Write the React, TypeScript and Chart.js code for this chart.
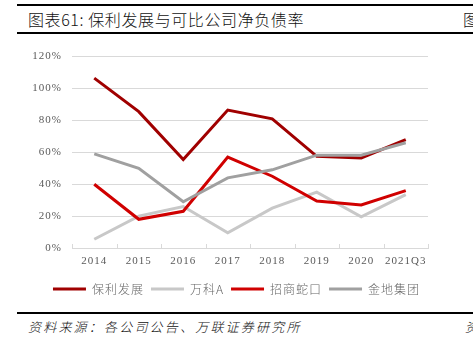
import React, { useEffect, useRef } from "react";
import { Chart, registerables } from "chart.js";

Chart.register(...registerables);

const categories = ["2014", "2015", "2016", "2017", "2018", "2019", "2020", "2021Q3"];
const seriesNames = ["保利发展", "万科A", "招商蛇口", "金地集团"];
const polyValues = [106.5, 85.5, 55.5, 86.5, 81, 57.5, 56.5, 68];
const vankeValues = [5.5, 20, 26, 9.5, 25, 35, 19.5, 33.5];
const cmskValues = [40, 18, 23, 57, 45, 29.5, 27, 36];
const gemdaleValues = [59, 50, 29, 44, 49, 58.2, 58.2, 66];
const seriesColors = ["#A00000", "#C8C8C8", "#D00000", "#A0A0A0"];
const yMin = 0;
const yMax = 120;
const yStep = 20;

const spacingPlugin = {
  id: "spacing",
  beforeLayout(chart: any) {
    chart.ctx.letterSpacing = "1px";
  },
  beforeDraw(chart: any) {
    chart.ctx.letterSpacing = "1px";
  },
};

const xTickPlugin = {
  id: "xTicksUp",
  afterDatasetsDraw(chart: any) {
    const xs = chart.scales.x;
    const ctx = chart.ctx;
    const n = categories.length;
    const half = (xs.getPixelForValue(1) - xs.getPixelForValue(0)) / 2;
    ctx.save();
    ctx.strokeStyle = "#D9D9D9";
    ctx.lineWidth = 1;
    ctx.beginPath();
    for (let i = 0; i <= n; i++) {
      const x = Math.round(xs.getPixelForValue(i) - half) + 0.5;
      ctx.moveTo(x, xs.top - 4);
      ctx.lineTo(x, xs.top);
    }
    ctx.stroke();
    ctx.restore();
  },
};

export default function App() {
  const ref = useRef<HTMLCanvasElement | null>(null);

  useEffect(() => {
    if (!ref.current) return;
    const all = [polyValues, vankeValues, cmskValues, gemdaleValues];
    const chart = new Chart(ref.current, {
      type: "line",
      data: {
        labels: categories,
        datasets: all.map((d, i) => ({
          label: seriesNames[i],
          data: d,
          borderColor: seriesColors[i],
          backgroundColor: seriesColors[i],
          borderWidth: 3,
          pointRadius: 0,
          tension: 0,
          order: all.length - i,
          yAxisID: "y",
        })),
      },
      options: {
        animation: false,
        responsive: false,
        layout: { padding: { top: 10, left: 0, right: 0, bottom: 0 } },
        plugins: {
          tooltip: { enabled: false },
          legend: {
            position: "bottom",
            labels: {
              usePointStyle: true,
              pointStyle: "line",
              pointStyleWidth: 33,
              boxHeight: 12,
              padding: 7,
              color: "#666666",
              font: { family: "'Noto Sans CJK SC'", size: 12, weight: "300" },
              sort: (a: any, b: any) => a.datasetIndex - b.datasetIndex,
            },
          },
        },
        scales: {
          x: {
            offset: true,
            grid: { display: false, offset: true, drawTicks: false },
            border: { display: true, color: "#D9D9D9", width: 1 },
            ticks: {
              color: "#595959",
              padding: 7,
              maxRotation: 0,
              autoSkip: false,
              font: { family: "'Liberation Serif', serif", size: 11 },
            },
            afterFit: (s: any) => {
              s.height = 28;
            },
          },
          y: {
            min: yMin,
            max: yMax,
            grid: { color: "#D9D9D9", lineWidth: 1, drawTicks: false },
            border: { display: false },
            ticks: {
              stepSize: yStep,
              padding: 10,
              color: "#595959",
              font: { family: "'Liberation Serif', serif", size: 11 },
              callback: (v: any) => v + "%",
            },
            afterFit: (s: any) => {
              s.width = 72;
            },
          },
          yRight: {
            position: "right",
            display: true,
            grid: { display: false, drawTicks: false },
            border: { display: false },
            ticks: { display: false },
            afterFit: (s: any) => {
              s.width = 45;
            },
          },
        },
      } as any,
      plugins: [spacingPlugin, xTickPlugin],
    });
    return () => chart.destroy();
  }, []);

  return (
    <div
      style={{
        position: "absolute",
        left: 0,
        top: 0,
        width: 473,
        height: 351,
        overflow: "hidden",
        background: "#fff",
      }}
    >
      <div style={{ position: "absolute", left: 17, right: 0, top: 4, height: 2, background: "#000" }} />
      <div
        style={{
          position: "absolute",
          left: 28,
          top: 9,
          height: 20,
          lineHeight: "20px",
          fontFamily: "'Noto Sans CJK SC'",
          fontSize: 16,
          fontWeight: 300,
          letterSpacing: "0.6px",
          color: "#111",
          whiteSpace: "nowrap",
        }}
      >
        图表61: 保利发展与可比公司净负债率
      </div>
      <div
        style={{
          position: "absolute",
          left: 463,
          top: 9,
          lineHeight: "20px",
          fontFamily: "'Noto Sans CJK SC'",
          fontSize: 16,
          fontWeight: 300,
          color: "#111",
          whiteSpace: "nowrap",
        }}
      >
        图
      </div>
      <div style={{ position: "absolute", left: 17, right: 0, top: 32, height: 2, background: "#000" }} />
      <div style={{ position: "absolute", left: 0, top: 40, width: 473, height: 265 }}>
        <canvas ref={ref} width={473} height={265} style={{ display: "block" }} />
      </div>
      <div style={{ position: "absolute", left: 17, right: 0, top: 312, height: 2, background: "#000" }} />
      <div
        style={{
          position: "absolute",
          left: 28,
          top: 317,
          lineHeight: "20px",
          fontFamily: "'Noto Sans CJK SC'",
          fontSize: 13,
          fontWeight: 300,
          fontStyle: "italic",
          letterSpacing: "2.2px",
          color: "#111",
          whiteSpace: "nowrap",
        }}
      >
        资料来源：各公司公告、万联证券研究所
      </div>
      <div
        style={{
          position: "absolute",
          left: 465,
          top: 317,
          lineHeight: "20px",
          fontFamily: "'Noto Sans CJK SC'",
          fontSize: 13,
          fontWeight: 300,
          fontStyle: "italic",
          color: "#111",
          whiteSpace: "nowrap",
        }}
      >
        资
      </div>
    </div>
  );
}
